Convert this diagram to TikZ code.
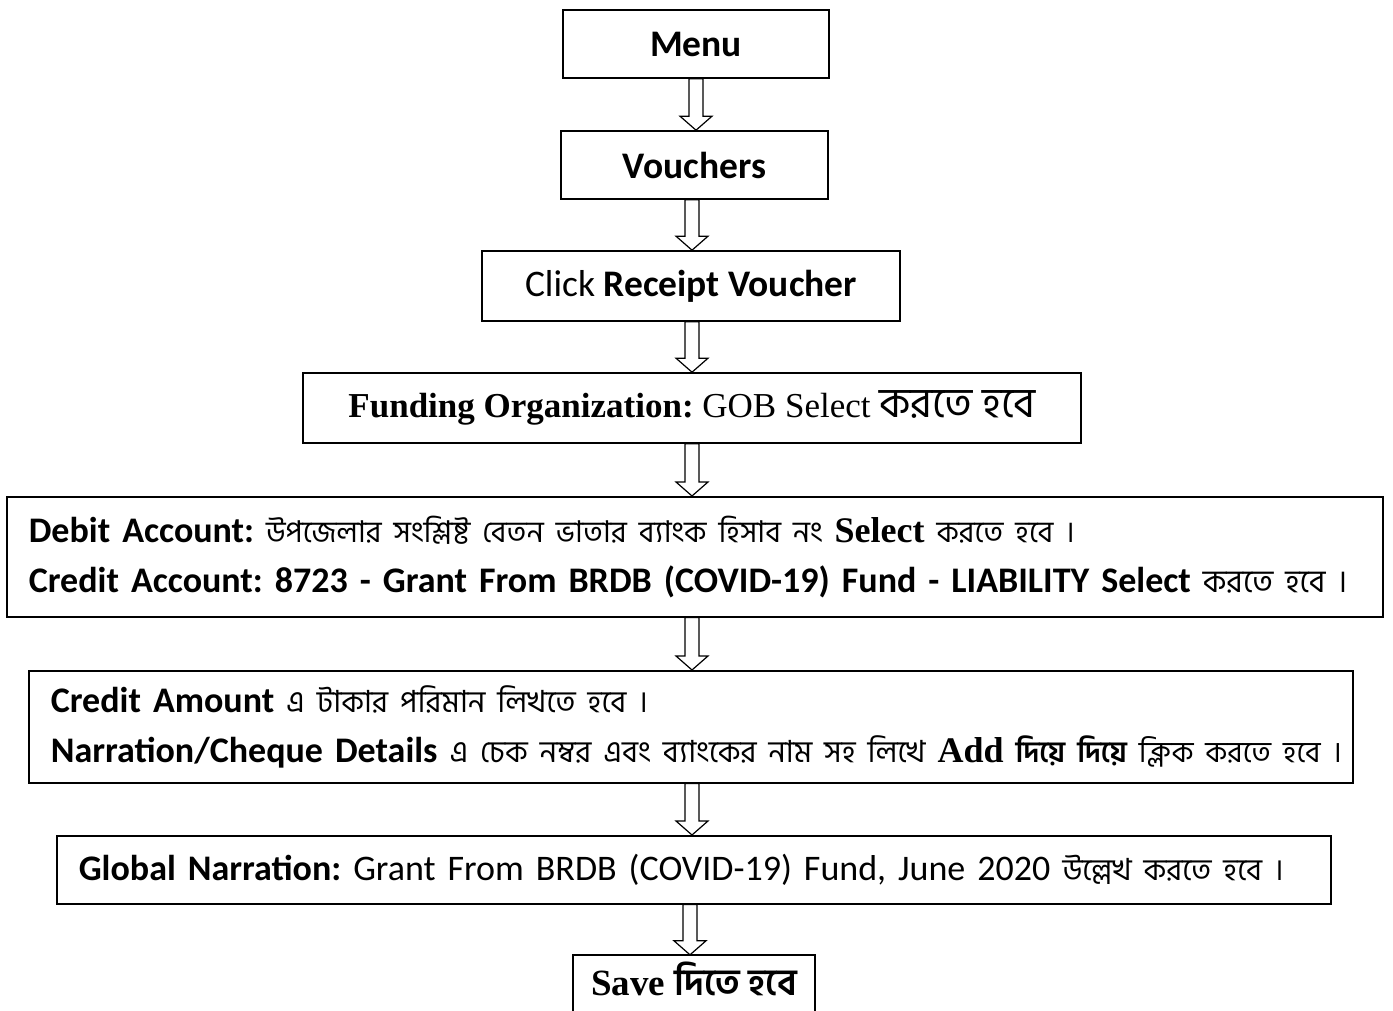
\documentclass[tikz,border=0pt]{standalone}
\usepackage{fontspec}
\setmainfont{Carlito}
\newfontfamily\tnr{Liberation Serif}
\newfontfamily\bn[Script=Bengali,Scale=0.88]{Hind Siliguri}
\newfontfamily\bnbig[Script=Bengali]{Hind Siliguri}
\newcommand{\bnat}[2]{{\bnbig\fontsize{#1}{50}\selectfont #2}}
\usetikzlibrary{calc}
\tikzset{
  box/.style={draw=black, line width=1.6pt, inner sep=0pt, fill=white,
    font=\fontsize{36}{50}\selectfont\frenchspacing},
  tbox/.style={box, font=\fontsize{37.5}{50}\selectfont\frenchspacing},
  lbox/.style={box, align=left, inner xsep=22pt, anchor=north west},
  openbox/.style={draw=black, line width=1.6pt},
  blockarrow/.style={draw=black, line width=1.2pt, line join=miter,
    to path={let \p1=(\tikztostart), \p2=(\tikztotarget) in
      (\x1-7pt,\y1) -- (\x1-7pt,\y2+14pt) -- (\x1-16pt,\y2+14pt) -- (\x1,\y2)
      -- (\x1+16pt,\y2+14pt) -- (\x1+7pt,\y2+14pt) -- (\x1+7pt,\y1) -- cycle}}
}
\begin{document}
\begin{tikzpicture}[x=1pt,y=-1pt]
\clip (0,0) rectangle (1393,1011);
\fill[white] (0,0) rectangle (1393,1011);

\node[tbox, minimum width=266pt, minimum height=68pt] (menu) at (696,44) {\textbf{Menu}};
\node[tbox, minimum width=267pt, minimum height=68pt] (vouch) at (694.5,165) {\textbf{Vouchers}};
\node[tbox, minimum width=418pt, minimum height=70pt] (click) at (691,286) {Click \textbf{Receipt Voucher}};
\node[box, minimum width=778pt, minimum height=70pt, font=\fontsize{35}{50}\selectfont\frenchspacing] (fund) at (692,408)
  {\tnr\textbf{Funding Organization:} GOB Select \bnat{42}{করতে হবে}};
\node[lbox, text width=1332pt, minimum height=120pt] (debit) at (6,496)
  {\mbox{\textbf{Debit Account:} \bnat{30}{উপজেলার সংশ্লিষ্ট বেতন ভাতার ব্যাংক হিসাব নং} {\tnr\bfseries Select} \bnat{30}{করতে হবে ।}}\\
   \mbox{\textbf{Credit Account: 8723 - Grant From BRDB (COVID-19) Fund - LIABILITY Select} {\bn করতে হবে ।}}};
\node[lbox, text width=1280pt, minimum height=112pt] (credit) at (28,670)
  {\mbox{\textbf{Credit Amount} \bnat{30.5}{এ টাকার পরিমান লিখতে হবে ।}}\\
   \mbox{\textbf{Narration/Cheque Details} \bnat{30.5}{এ চেক নম্বর এবং ব্যাংকের নাম সহ লিখে} {\tnr\bfseries Add} \bnat{29.5}{\bfseries দিয়ে দিয়ে} \bnat{29.5}{ক্লিক করতে হবে ।}}};
\node[lbox, text width=1230pt, minimum height=68pt] (global) at (56,835)
  {\mbox{\textbf{Global Narration:} Grant From BRDB (COVID-19) Fund, June 2020 \bnat{30.5}{উল্লেখ করতে হবে ।}}};
\node[inner sep=0pt, minimum width=242pt, minimum height=56pt, text height=32pt, text depth=8pt,
  font=\fontsize{37}{50}\selectfont] (save) at (694,983)
  {\tnr\bfseries Save {\bnbig দিতে হবে}};
\draw[openbox] (save.south west) -- (save.north west) -- (save.north east) -- (save.south east);

\draw[blockarrow] (menu.south) to (vouch.north);
\draw[blockarrow] ([xshift=-2.5pt]vouch.south) to ([xshift=-2.5pt]vouch.south |- click.north);
\draw[blockarrow] ([xshift=1pt]click.south) to ([xshift=1pt]click.south |- fund.north);
\draw[blockarrow] (fund.south) to (fund.south |- debit.north);
\draw[blockarrow] (fund.south |- debit.south) to (fund.south |- credit.north);
\draw[blockarrow] (fund.south |- credit.south) to (fund.south |- global.north);
\draw[blockarrow] ([xshift=-2pt]fund.south |- global.south) to ([xshift=-2pt]fund.south |- save.north);
\end{tikzpicture}
\end{document}
